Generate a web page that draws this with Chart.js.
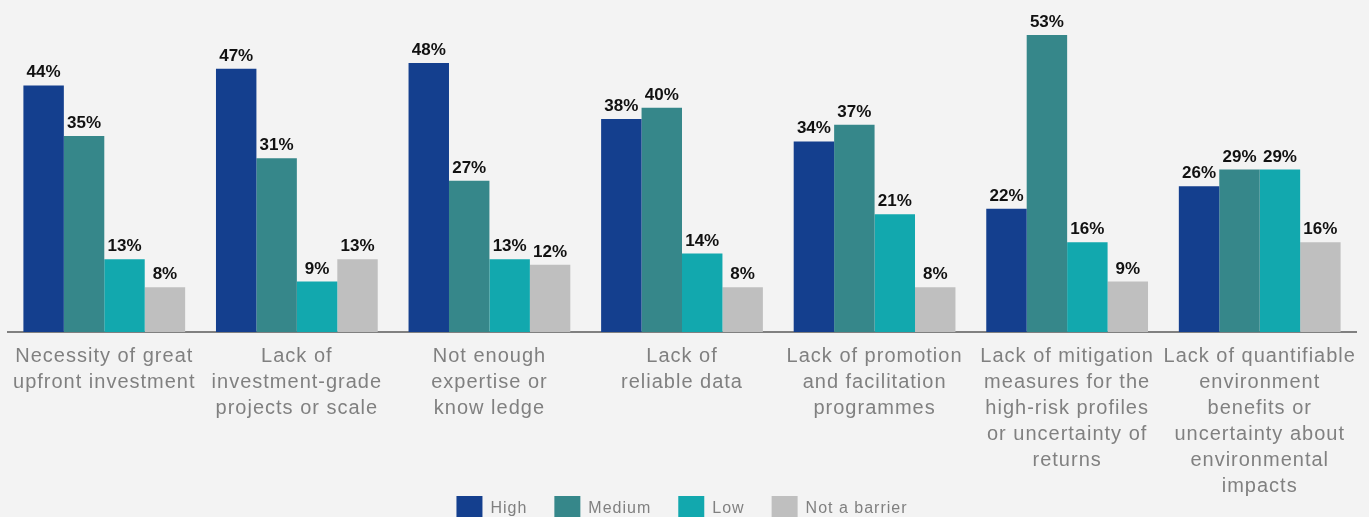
<!DOCTYPE html>
<html>
<head>
<meta charset="utf-8">
<script src="https://cdn.jsdelivr.net/npm/chart.js@4/dist/chart.umd.min.js"></script>
<style>
  html, body { margin:0; padding:0; background:#f3f3f3; overflow:hidden; }
  #wrap { width:1369px; height:532px; position:relative; }
</style>
</head>
<body>
<div id="wrap"><canvas id="barChart"></canvas></div>
<script>
// categories (multi-line labels as drawn)
const categories = [
  ['Necessity of great', 'upfront investment'],
  ['Lack of', 'investment-grade', 'projects or scale'],
  ['Not enough', 'expertise or', 'know ledge'],
  ['Lack of', 'reliable data'],
  ['Lack of promotion', 'and facilitation', 'programmes'],
  ['Lack of mitigation', 'measures for the', 'high-risk profiles', 'or uncertainty of', 'returns'],
  ['Lack of quantifiable', 'environment', 'benefits or', 'uncertainty about', 'environmental', 'impacts']
];
const seriesNames = ['High', 'Medium', 'Low', 'Not a barrier'];
const high      = [44, 47, 48, 38, 34, 22, 26];
const medium    = [35, 31, 27, 40, 37, 53, 29];
const low       = [13, 9, 13, 14, 21, 16, 29];
const notBarrier = [8, 13, 12, 8, 8, 9, 16];
const colors = ['#143f8e', '#36878a', '#12a8ae', '#bfbfbf'];

// the source text is slightly letter-spaced (axis + legend)
const spacing = {
  id: 'spacing',
  beforeLayout(chart) { chart.ctx.letterSpacing = '1px'; },
  beforeDraw(chart) { chart.ctx.letterSpacing = '1px'; }
};

// value labels above bars
const valueLabels = {
  id: 'valueLabels',
  afterDatasetsDraw(chart) {
    const ctx = chart.ctx;
    ctx.save();
    ctx.letterSpacing = '0px';
    ctx.font = 'bold 17px "Liberation Sans", Arial, sans-serif';
    ctx.fillStyle = '#111';
    ctx.textAlign = 'center';
    ctx.textBaseline = 'alphabetic';
    chart.data.datasets.forEach((ds, i) => {
      chart.getDatasetMeta(i).data.forEach((el, j) => {
        ctx.fillText(ds.data[j] + '%', el.x, el.y - 8);
      });
    });
    ctx.restore();
  }
};

const ctx = document.getElementById('barChart').getContext('2d');
window.barChart = new Chart(ctx, {
  type: 'bar',
  data: {
    labels: categories,
    datasets: [high, medium, low, notBarrier].map((d, i) => ({
      label: seriesNames[i], data: d, backgroundColor: colors[i],
      categoryPercentage: 0.84, barPercentage: 1.0
    }))
  },
  options: {
    animation: false, responsive: true, maintainAspectRatio: false,
    layout: { padding: { left: 8, right: 13, top: 7, bottom: 0 } },
    scales: {
      x: {
        grid: { display: false, drawTicks: false },
        border: { display: true, color: '#808080', width: 2 },
        ticks: {
          autoSkip: false, maxRotation: 0, padding: 11, color: '#808080',
          font: { family: '"Liberation Sans", Arial, sans-serif', size: 20, lineHeight: 1.3 }
        },
        afterFit(scale) {
          scale.height = 137;
          // long labels run down next to the legend, don't clip them
          scale._computeLabelArea = () => null;
        }
      },
      y: { display: false, min: 0, max: 58 }
    },
    plugins: {
      legend: {
        position: 'bottom',
        labels: {
          boxWidth: 26, boxHeight: 26, padding: 27, color: '#808080',
          font: { family: '"Liberation Sans", Arial, sans-serif', size: 16 }
        }
      },
      tooltip: { enabled: false }
    }
  },
  plugins: [spacing, valueLabels]
});
</script>
</body>
</html>
